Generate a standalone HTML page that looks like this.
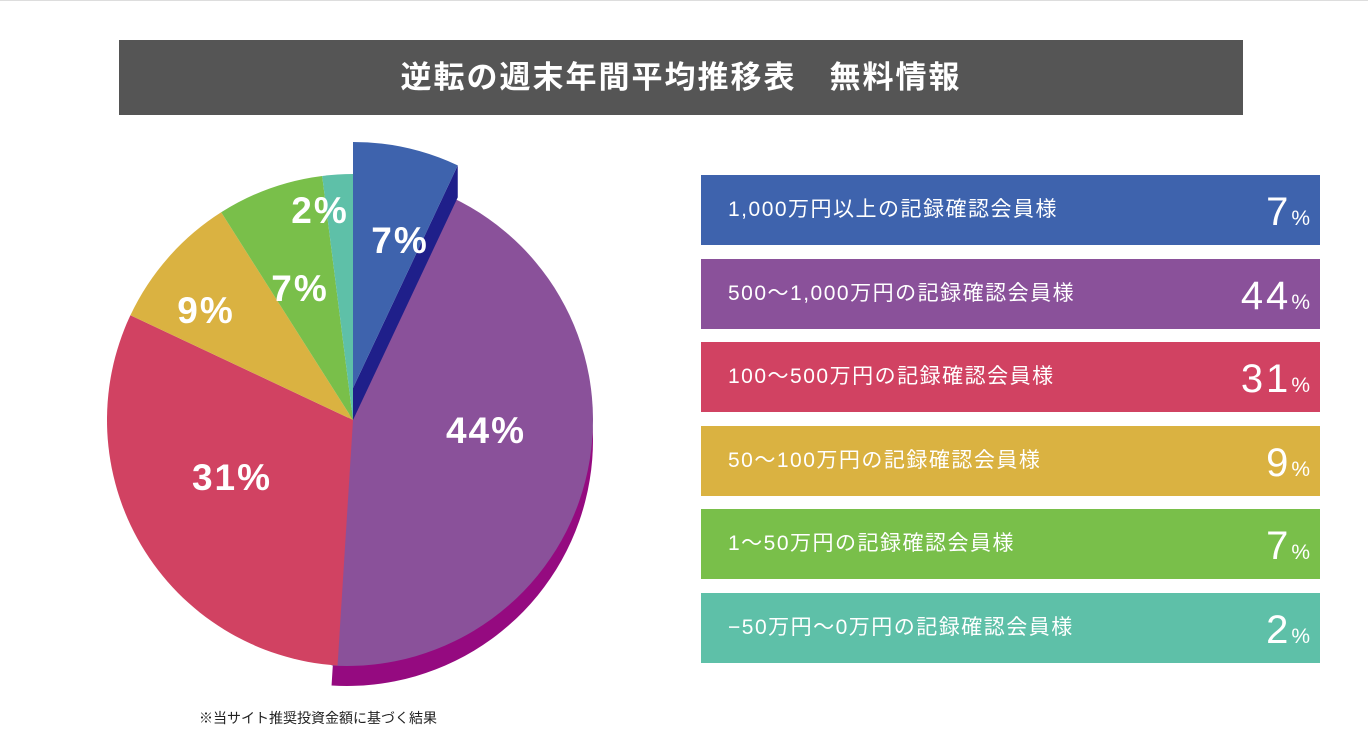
<!DOCTYPE html>
<html><head><meta charset="utf-8"><style>
body{margin:0;width:1368px;height:741px;background:#fff;position:relative;overflow:hidden;font-family:"Liberation Sans","Noto Sans CJK JP",sans-serif}
.topline{position:absolute;left:0;top:0;width:1368px;height:1px;background:#ddd}
.title{position:absolute;left:119px;top:40px;width:1124px;height:75px;background:#555;color:#fff;font-size:31px;font-weight:bold;text-align:center;line-height:75px;letter-spacing:2px}
.row{position:absolute;left:701px;width:619px;height:70px;color:#fff}
.row .lab{position:absolute;left:27px;top:0;line-height:70px;font-size:21px;letter-spacing:1.5px}
.row .pct{position:absolute;right:10px;top:0;line-height:74px;font-size:40px;letter-spacing:3px}
.row .pct small{font-size:21px;letter-spacing:0}
.note{position:absolute;left:199px;top:708px;font-size:14px;color:#222}
</style></head><body>
<div class="topline"></div>
<div class="title">逆転の週末年間平均推移表　無料情報</div>
<svg id="pie" width="1368" height="741" style="position:absolute;left:0;top:0"></svg>
<div id="legend"></div>
<div class="note">※当サイト推奨投資金額に基づく結果</div>
<script>
const categories=["1,000万円以上の記録確認会員様","500〜1,000万円の記録確認会員様","100〜500万円の記録確認会員様","50〜100万円の記録確認会員様","1〜50万円の記録確認会員様","−50万円〜0万円の記録確認会員様"];
const values=[7,44,31,9,7,2];
const colors=["#3e63ad","#8a519a","#d14262","#dab241","#79bf4a","#5ec0a8"];
const labelPos=[[400,243],[486,433],[232,480],[206,313],[300,291],[320,213]];
const NS="http://www.w3.org/2000/svg";
const svg=document.getElementById('pie');
const cx=353,cy=420,r=246;
const total=values.reduce((a,b)=>a+b,0);
function pt(a,dx,dy){return [cx+dx+r*Math.sin(a),cy+dy-r*Math.cos(a)];}
function slicePath(a0,a1,dx,dy){const p0=pt(a0,dx,dy),p1=pt(a1,dx,dy);const large=(a1-a0)>Math.PI?1:0;
return `M${cx+dx},${cy+dy}L${p0[0]},${p0[1]}A${r},${r} 0 ${large} 1 ${p1[0]},${p1[1]}Z`;}
function add(tag,attrs,name){const e=document.createElementNS(NS,tag);for(const k in attrs)e.setAttribute(k,attrs[k]);


svg.appendChild(e);return e;}
let acc=0;const angles=values.map(v=>{const a0=acc/total*2*Math.PI;acc+=v;return [a0,acc/total*2*Math.PI];});
// purple 3D side
add('path',{d:slicePath(angles[1][0],angles[1][1],-6,20),fill:"#950a80"},'slice-side-1');
values.forEach((v,i)=>{if(i===0)return;
 add('path',{d:slicePath(angles[i][0],angles[i][1],i===1?-6:0,0),fill:colors[i]},'slice-'+i);});
// exploded blue slice with dark side
const a1=angles[0][1];const e1=pt(a1,0,-32),e2=pt(a1,0,0);
add('path',{d:`M${cx},${cy}L${cx},${cy-32}L${e1[0]},${e1[1]}L${e2[0]},${e2[1]}Z`,fill:"#1f1f8a"},'slice-0-side');
add('path',{d:slicePath(angles[0][0],angles[0][1],0,-32),fill:colors[0]},'slice-0');
values.forEach((v,i)=>{const t=add('text',{x:labelPos[i][0],y:labelPos[i][1],fill:"#fff","font-size":"37","font-weight":"bold","text-anchor":"middle","dominant-baseline":"middle","font-family":"Liberation Sans, sans-serif","letter-spacing":"2"},'slice-label-'+i);t.textContent=v+"%";});
const lg=document.getElementById('legend');
values.forEach((v,i)=>{const d=document.createElement('div');d.className='row';d.style.top=(175+i*83.6)+'px';d.style.background=colors[i];


d.innerHTML='<span class="lab">'+categories[i]+'</span><span class="pct">'+v+'<small>%</small></span>';lg.appendChild(d);});
</script>
</body></html>
